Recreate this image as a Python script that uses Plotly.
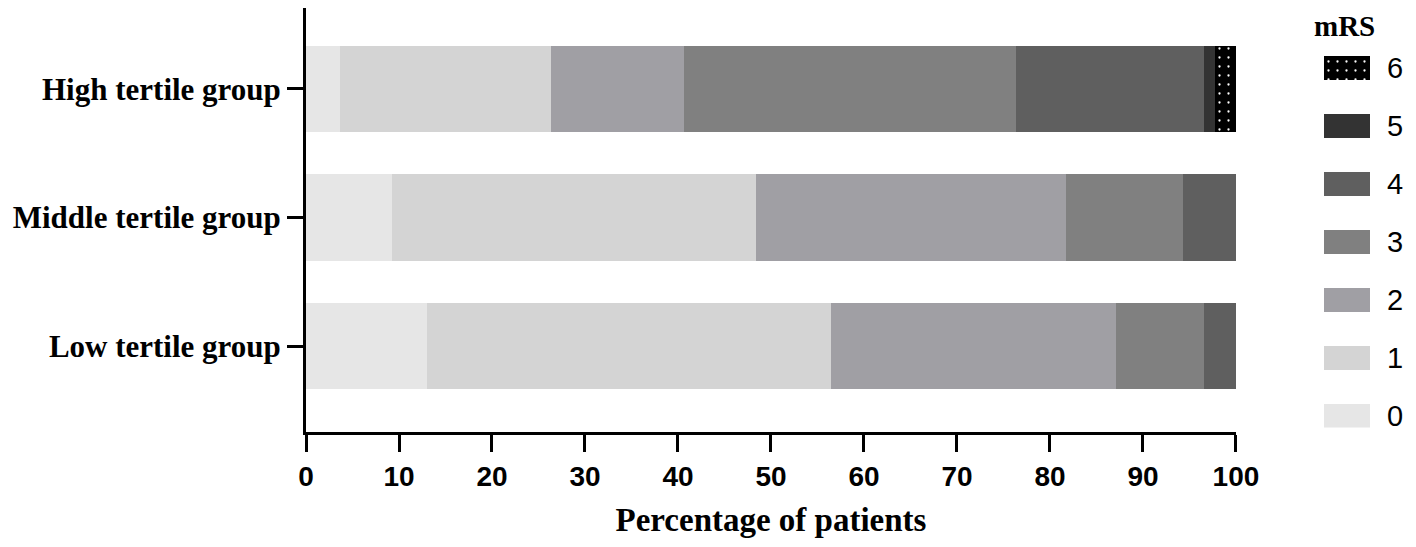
import plotly.graph_objects as go

groups = ['Low tertile group', 'Middle tertile group', 'High tertile group']
mrs_levels = ['0', '1', '2', '3', '4', '5', '6']
# percentage of patients per mRS level, order matches `groups`
pct = {
    '0': [13.0, 9.3, 3.7],
    '1': [43.5, 39.1, 22.6],
    '2': [30.6, 33.3, 14.3],
    '3': [9.5, 12.6, 35.7],
    '4': [3.4, 5.7, 20.3],
    '5': [0.0, 0.0, 1.1],
    '6': [0.0, 0.0, 2.3],
}
colors = ['#e6e6e6', '#d4d4d4', '#a09fa4', '#808080', '#5f5f5f', '#333333', '#000000']

SERIF = 'Liberation Serif'
SANS = 'Liberation Sans'


def level_marker(i):
    m = dict(color=colors[i], line=dict(width=0))
    if mrs_levels[i] == '6':
        m['pattern'] = dict(shape='.', fgcolor='white', bgcolor='black',
                            size=9, solidity=0.05, fillmode='replace')
    return m


fig = go.Figure()
for i, lvl in enumerate(mrs_levels):
    fig.add_trace(go.Bar(
        y=groups, x=pct[lvl], orientation='h', name=lvl,
        marker=level_marker(i), showlegend=False, hoverinfo='x+name',
    ))

# legend swatches drawn as a tiny bar chart on a side axis
for i, lvl in enumerate(mrs_levels):
    fig.add_trace(go.Bar(
        y=[i], x=[1], orientation='h', width=0.4, marker=level_marker(i),
        xaxis='x2', yaxis='y2', showlegend=False, hoverinfo='skip',
    ))

# page body has an 8px margin, so the figure is 8px smaller than the window
fig.update_layout(
    width=1408, height=539,
    barmode='stack', bargap=0.33,
    plot_bgcolor='white', paper_bgcolor='white',
    margin=dict(l=298, r=0, t=0, b=115),
    xaxis=dict(
        domain=[0, 0.8378], range=[0, 100], dtick=10, automargin=False,
        showgrid=False, zeroline=False,
        showline=True, linecolor='black', linewidth=3,
        ticks='outside', ticklen=17, tickwidth=3, tickcolor='black',
        tickfont=dict(family=SANS, size=28, color='black', weight='bold'),
        ticklabelstandoff=0,
        title=dict(text='Percentage of patients', standoff=18,
                   font=dict(family=SERIF, size=33, color='black', weight='bold')),
    ),
    yaxis=dict(
        range=[-0.669, 2.63], automargin=False,
        showgrid=False, zeroline=False,
        showline=True, linecolor='black', linewidth=3,
        ticks='outside', ticklen=16, tickwidth=3, tickcolor='black',
        ticklabelstandoff=0,
        tickfont=dict(family=SERIF, size=31, color='black', weight='bold'),
    ),
    xaxis2=dict(domain=[0.9171, 0.9586], range=[0, 1], anchor='y2',
                visible=False, fixedrange=True, automargin=False),
    yaxis2=dict(
        domain=[0.0104, 0.9269], range=[-0.2, 6.5], anchor='x2', side='right',
        automargin=False,
        tickvals=list(range(len(mrs_levels))), ticktext=mrs_levels,
        showgrid=False, zeroline=False, showline=False, ticks='',
        ticklabelstandoff=16,
        tickfont=dict(family=SANS, size=29, color='black'),
    ),
    annotations=[dict(
        text='mRS', xref='paper', yref='paper', x=0.936, y=1.0,
        xanchor='center', yanchor='top', showarrow=False,
        font=dict(family=SERIF, size=29, color='black', weight='bold'),
    )],
)

fig.write_html('out.html')
